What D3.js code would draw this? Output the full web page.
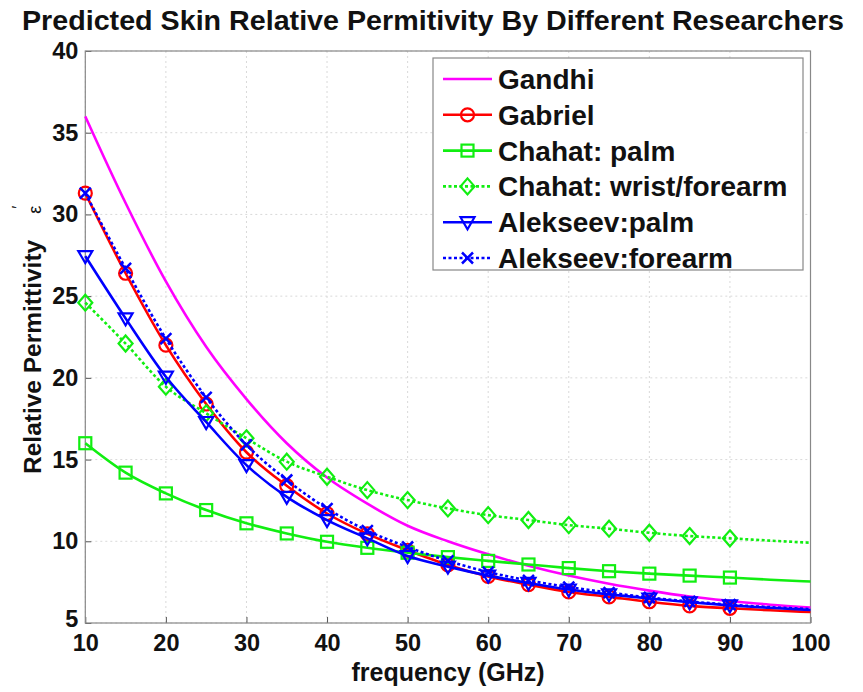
<!DOCTYPE html>
<html>
<head>
<meta charset="utf-8">
<script src="https://cdn.jsdelivr.net/npm/d3@7/dist/d3.min.js"></script>
<style>
  body { margin: 0; background: #fff; }
  svg text { font-family: "Liberation Sans", Arial, sans-serif; font-weight: bold; fill: #111; }
  .grid line { stroke: #d9d9d9; stroke-dasharray: 2,3; }
  .axis path { display: none; }
  .axis line { stroke: #555; }
</style>
</head>
<body>
<div id="chart"></div>
<script>
// frequency samples (GHz)
const freq = [10, 15, 20, 25, 30, 35, 40, 45, 50, 55, 60, 65, 70, 75, 80, 85, 90, 95, 100];

// series values
const gandhi     = [36.0, 30.7, 25.9, 21.9, 18.7, 16.0, 13.9, 12.3, 10.95, 10.0, 9.2, 8.5, 7.9, 7.4, 6.98, 6.62, 6.35, 6.12, 5.95];
const gabriel    = [31.3, 26.4, 22.0, 18.4, 15.45, 13.4, 11.7, 10.45, 9.45, 8.55, 7.85, 7.35, 6.9, 6.6, 6.3, 6.05, 5.9, 5.78, 5.67];
const chahatPalm = [16.0, 14.2, 12.93, 11.91, 11.1, 10.48, 9.97, 9.6, 9.3, 9.03, 8.8, 8.58, 8.36, 8.17, 8.02, 7.9, 7.78, 7.65, 7.54];
const chahatWrist= [24.6, 22.1, 19.46, 17.83, 16.3, 14.87, 13.95, 13.13, 12.52, 12.01, 11.6, 11.3, 10.99, 10.77, 10.52, 10.32, 10.18, 10.04, 9.91];
const alekPalm   = [27.45, 23.64, 20.07, 17.3, 14.66, 12.72, 11.3, 10.18, 9.1, 8.45, 7.9, 7.45, 7.05, 6.75, 6.5, 6.27, 6.08, 5.93, 5.8];
const alekForearm= [31.3, 26.7, 22.4, 18.8, 15.9, 13.75, 12.0, 10.65, 9.65, 8.8, 8.12, 7.6, 7.2, 6.86, 6.56, 6.32, 6.12, 5.97, 5.85];

const seriesNames = ['Gandhi', 'Gabriel', 'Chahat: palm', 'Chahat: wrist/forearm', 'Alekseev:palm', 'Alekseev:forearm'];
const xTicks = [10, 20, 30, 40, 50, 60, 70, 80, 90, 100];
const yTicks = [5, 10, 15, 20, 25, 30, 35, 40];

const series = [
  {name: seriesNames[0], values: gandhi,      color: '#ff00ff', dash: null,  marker: null},
  {name: seriesNames[1], values: gabriel,     color: '#ff0000', dash: null,  marker: 'circle'},
  {name: seriesNames[2], values: chahatPalm,  color: '#11ee11', dash: null,  marker: 'square'},
  {name: seriesNames[3], values: chahatWrist, color: '#11ee11', dash: '3,2.5', marker: 'diamond'},
  {name: seriesNames[4], values: alekPalm,    color: '#0000ff', dash: null,  marker: 'triangle'},
  {name: seriesNames[5], values: alekForearm, color: '#0000ff', dash: '3,2.5', marker: 'cross'}
];

// layout
const W = 863, H = 692;
const margin = {top: 51, right: 52.5, bottom: 69, left: 85.3};
const width = W - margin.left - margin.right;
const height = H - margin.top - margin.bottom;

const xScale = d3.scaleLinear().domain([10, 100]).range([0, width]);
const yScale = d3.scaleLinear().domain([5, 40]).range([height, 0]);

const svg = d3.select('#chart').append('svg')
  .attr('width', W)
  .attr('height', H);

// title
svg.append('text')
  .attr('x', 22)
  .attr('y', 30)
  .attr('textLength', 822)
  .attr('lengthAdjust', 'spacingAndGlyphs')
  .style('font-size', '28px')
  .text('Predicted Skin Relative Permitivity By Different Researchers');

const g = svg.append('g')
  .attr('transform', 'translate(' + margin.left + ',' + margin.top + ')');

// grid
g.append('g').attr('class', 'grid')
  .selectAll('line.v').data(xTicks).enter().append('line')
  .attr('x1', d => xScale(d)).attr('x2', d => xScale(d))
  .attr('y1', 0).attr('y2', height);
g.append('g').attr('class', 'grid')
  .selectAll('line.h').data(yTicks).enter().append('line')
  .attr('x1', 0).attr('x2', width)
  .attr('y1', d => yScale(d)).attr('y2', d => yScale(d));

// axes
g.append('g')
  .attr('class', 'axis')
  .attr('transform', 'translate(0,' + height + ')')
  .call(d3.axisBottom(xScale).tickValues(xTicks).tickSize(-6).tickPadding(11))
  .selectAll('text').style('font-size', '23.5px').style('font-family', '"Liberation Sans", Arial, sans-serif');

g.append('g')
  .attr('class', 'axis')
  .call(d3.axisLeft(yScale).tickValues(yTicks).tickSize(-6).tickPadding(7))
  .selectAll('text')
  .style('font-size', '23.5px').style('font-family', '"Liberation Sans", Arial, sans-serif')
  .attr('y', d => d === 5 ? -4 : 0);

// box
g.append('rect')
  .attr('width', width).attr('height', height)
  .attr('fill', 'none').attr('stroke', '#888').attr('stroke-width', 1.2);

// lines
const line = d3.line()
  .x(d => xScale(d.f))
  .y(d => yScale(d.v))
  .curve(d3.curveMonotoneX);

function pts(s) {
  return freq.map((f, i) => ({f: f, v: s.values[i]}));
}

function drawMarker(sel, type, color) {
  if (type === 'circle') {
    sel.append('circle').attr('r', 6.5)
      .attr('fill', 'none').attr('stroke', color).attr('stroke-width', 2.2);
  } else if (type === 'square') {
    sel.append('rect').attr('x', -6).attr('y', -6).attr('width', 12).attr('height', 12)
      .attr('fill', 'none').attr('stroke', color).attr('stroke-width', 2.2);
  } else if (type === 'diamond') {
    sel.append('path').attr('d', 'M0,-8L7,0L0,8L-7,0Z')
      .attr('fill', 'none').attr('stroke', color).attr('stroke-width', 2.2);
  } else if (type === 'triangle') {
    sel.append('path').attr('d', 'M-7,-5L7,-5L0,7Z')
      .attr('fill', 'none').attr('stroke', color).attr('stroke-width', 2.2);
  } else if (type === 'cross') {
    sel.append('path').attr('d', 'M-5.5,-5.5L5.5,5.5M-5.5,5.5L5.5,-5.5')
      .attr('fill', 'none').attr('stroke', color).attr('stroke-width', 2.5);
  }
}

series.forEach(function(s) {
  g.append('path')
    .datum(pts(s))
    .attr('d', line)
    .attr('fill', 'none')
    .attr('stroke', s.color)
    .attr('stroke-width', 2.6)
    .attr('stroke-dasharray', s.dash);

  if (s.marker) {
    g.selectAll(null)
      .data(pts(s).filter(d => d.f <= 90))
      .enter().append('g')
      .attr('transform', d => 'translate(' + xScale(d.f) + ',' + yScale(d.v) + ')')
      .each(function() { drawMarker(d3.select(this), s.marker, s.color); });
  }
});

// axis labels
svg.append('text')
  .attr('x', 448)
  .attr('y', 681)
  .attr('text-anchor', 'middle')
  .style('font-size', '25px')
  .text('frequency (GHz)');

const yl = svg.append('text')
  .attr('transform', 'translate(41,474) rotate(-90)')
  .style('font-size', '24.5px');
yl.append('tspan').text('Relative Permittivity');
yl.append('tspan').attr('dx', 26).style('font-weight', 'normal').style('font-size', '18px').text('ε');
yl.append('tspan').attr('dy', -17).attr('dx', -3).style('font-weight', 'normal').style('font-size', '16px').text('′');

// legend
const legend = svg.append('g');
legend.append('rect')
  .attr('x', 433).attr('y', 58)
  .attr('width', 370).attr('height', 212)
  .attr('fill', '#fff').attr('stroke', '#888').attr('stroke-width', 1.2);

series.forEach(function(s, i) {
  const yy = 79 + i * 35.8;
  legend.append('line')
    .attr('x1', 443).attr('x2', 492)
    .attr('y1', yy).attr('y2', yy)
    .attr('stroke', s.color).attr('stroke-width', 2.6)
    .attr('stroke-dasharray', s.dash);
  if (s.marker) {
    const m = legend.append('g').attr('transform', 'translate(467.5,' + yy + ')');
    drawMarker(m, s.marker, s.color);
  }
  legend.append('text')
    .attr('x', 498).attr('y', yy + 10)
    .style('font-size', '28px')
    .text(s.name);
});
</script>
</body>
</html>
